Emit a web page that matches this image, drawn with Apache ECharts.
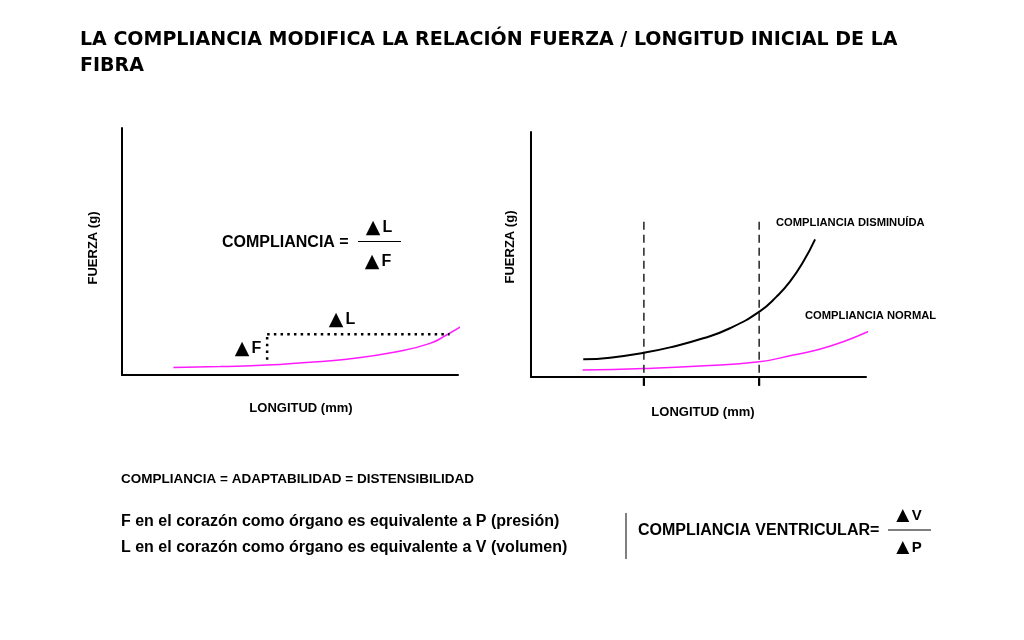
<!DOCTYPE html>
<html><head><meta charset="utf-8">
<script src="https://cdn.jsdelivr.net/npm/echarts@6/dist/echarts.min.js"></script>
<style>html,body{margin:0;padding:0;background:#fff}#c{width:1024px;height:640px}</style>
</head><body><div id="c"></div>
<script>
// Left chart: normal compliance curve (x = longitud, y = fuerza, arbitrary 0-100 units)
const leftX = [15.3, 29.2, 43.1, 54.8, 66.9, 81.8, 91.7, 96.6, 100.9];
const leftY = [3.0, 3.4, 4.0, 5.1, 6.4, 9.4, 12.8, 16.2, 19.6];
// Delta markers on the left chart
const deltaFX = [43.2, 43.2];
const deltaFY = [6.2, 16.5];
const deltaLX = [43.2, 97.5];
const deltaLY = [16.5, 16.5];
// Right chart: decreased compliance (black) and normal compliance (pink)
const blackX = [15.6, 23.6, 33.7, 41.5, 51.4, 59.4, 68.4, 73.3, 77.3, 81.3, 84.8];
const blackY = [7.2, 7.9, 9.9, 12.1, 15.8, 19.9, 26.9, 32.8, 38.9, 47.1, 56.2];
const pinkX = [15.4, 33.7, 50.4, 68.1, 78.3, 85.3, 93.2, 101.2];
const pinkY = [2.9, 3.5, 4.5, 6.2, 9.0, 11.0, 14.4, 18.9];
// Dashed reference lengths on right chart
const refX = [33.7, 68.1];
const refYTop = 64.4, refYBottom = -3.6;

const pair = (xs, ys) => xs.map((x, i) => [x, ys[i]]);
const BLACK = '#000', PINK = '#ff1aff';
const axisBase = (gi) => ({
  gridIndex: gi, type: 'value', min: 0, max: 100,
  axisLine: {show: true, onZero: false, lineStyle: {color: '#000', width: 2}},
  axisTick: {show: false}, axisLabel: {show: false}, splitLine: {show: false}
});

const series = [
  {type: 'line', xAxisIndex: 0, yAxisIndex: 0, data: pair(leftX, leftY), smooth: 0.5, symbol: 'none', clip: false,
   lineStyle: {color: PINK, width: 1.5}},
  {type: 'line', xAxisIndex: 0, yAxisIndex: 0, data: pair(deltaFX, deltaFY), symbol: 'none', clip: false,
   lineStyle: {color: BLACK, width: 2.5, type: [2.5, 4.2]}},
  {type: 'line', xAxisIndex: 0, yAxisIndex: 0, data: pair(deltaLX, deltaLY), symbol: 'none', clip: false,
   lineStyle: {color: BLACK, width: 2.5, type: [2.5, 4.2]}},
  {type: 'line', xAxisIndex: 1, yAxisIndex: 1, data: pair(blackX, blackY), smooth: 0.5, symbol: 'none', clip: false,
   lineStyle: {color: BLACK, width: 2}},
  {type: 'line', xAxisIndex: 1, yAxisIndex: 1, data: pair(pinkX, pinkY), smooth: 0.5, symbol: 'none', clip: false,
   lineStyle: {color: PINK, width: 1.5}}
];
refX.forEach(x => {
  series.push({type: 'line', xAxisIndex: 1, yAxisIndex: 1, data: [[x, refYBottom], [x, refYTop]], symbol: 'none', clip: false,
    lineStyle: {color: BLACK, width: 1.3, type: [8, 5]}});
  series.push({type: 'line', xAxisIndex: 1, yAxisIndex: 1, data: [[x, refYBottom], [x, -0.5]], symbol: 'none', clip: false,
    lineStyle: {color: BLACK, width: 2.2}});
});

const AR = '"Liberation Sans", Arial, sans-serif';
const TRI = '"DejaVu Sans", sans-serif';
const T = (x, y, text, size, opts = {}) => Object.assign({
  type: 'text', x, y,
  style: Object.assign({text, fontFamily: AR, fontWeight: 'bold', fontSize: size, fill: '#000',
    textAlign: 'left', textVerticalAlign: 'middle'}, opts.style || {})
}, opts.el || {});
// delta label: big triangle + letter
const D = (x, y, letter, size, triSize) => T(x, y, '{t|▲}{s| }' + letter, size, {style: {
  textAlign: 'center',
  rich: {t: {fontFamily: TRI, fontSize: triSize, fontWeight: 'normal', fill: '#000'},
         s: {fontSize: 8}}
}});

const graphic = [
  T(80, 40, 'LA COMPLIANCIA MODIFICA LA RELACIÓN FUERZA / LONGITUD INICIAL DE LA', 19, {style: {fontFamily: '"DejaVu Sans", Verdana, sans-serif'}}),
  T(80, 66, 'FIBRA', 19, {style: {fontFamily: '"DejaVu Sans", Verdana, sans-serif'}}),
  // left chart annotations
  T(93, 248, 'FUERZA (g)', 13, {style: {textAlign: 'center'}, el: {rotation: Math.PI / 2}}),
  T(301, 408, 'LONGITUD (mm)', 13, {style: {textAlign: 'center'}}),
  T(222, 243, 'COMPLIANCIA =', 16),
  {type: 'line', shape: {x1: 358, y1: 241.5, x2: 401, y2: 241.5}, style: {stroke: '#000', lineWidth: 1}},
  D(379, 228, 'L', 16, 19),
  D(378, 262, 'F', 16, 19),
  D(342, 320, 'L', 16, 19),
  D(248, 349, 'F', 16, 19),
  // right chart annotations
  T(510, 247, 'FUERZA (g)', 13, {style: {textAlign: 'center'}, el: {rotation: Math.PI / 2}}),
  T(703, 412, 'LONGITUD (mm)', 13, {style: {textAlign: 'center'}}),
  T(776, 223, 'COMPLIANCIA DISMINUÍDA', 11.2),
  T(805, 316, 'COMPLIANCIA NORMAL', 11.2),
  // bottom text
  T(121, 479, 'COMPLIANCIA = ADAPTABILIDAD = DISTENSIBILIDAD', 13.5),
  T(121, 522, 'F en el corazón como órgano es equivalente a P (presión)', 16),
  T(121, 548, 'L en el corazón como órgano es equivalente a V (volumen)', 16),
  {type: 'line', shape: {x1: 626, y1: 513, x2: 626, y2: 559}, style: {stroke: '#000', lineWidth: 1}},
  T(638, 531, 'COMPLIANCIA VENTRICULAR=', 16),
  {type: 'line', shape: {x1: 888, y1: 530, x2: 931, y2: 530}, style: {stroke: '#000', lineWidth: 1}},
  D(909, 516, 'V', 15, 17),
  D(909, 548, 'P', 15, 17)
];

const chart = echarts.init(document.getElementById('c'), null, {renderer: 'canvas'});
chart.setOption({
  backgroundColor: '#fff',
  animation: false,
  grid: [
    {left: 122, top: 128, width: 336, height: 247},
    {left: 531, top: 132, width: 335, height: 245}
  ],
  xAxis: [axisBase(0), axisBase(1)],
  yAxis: [axisBase(0), axisBase(1)],
  series,
  graphic
});
</script></body></html>
